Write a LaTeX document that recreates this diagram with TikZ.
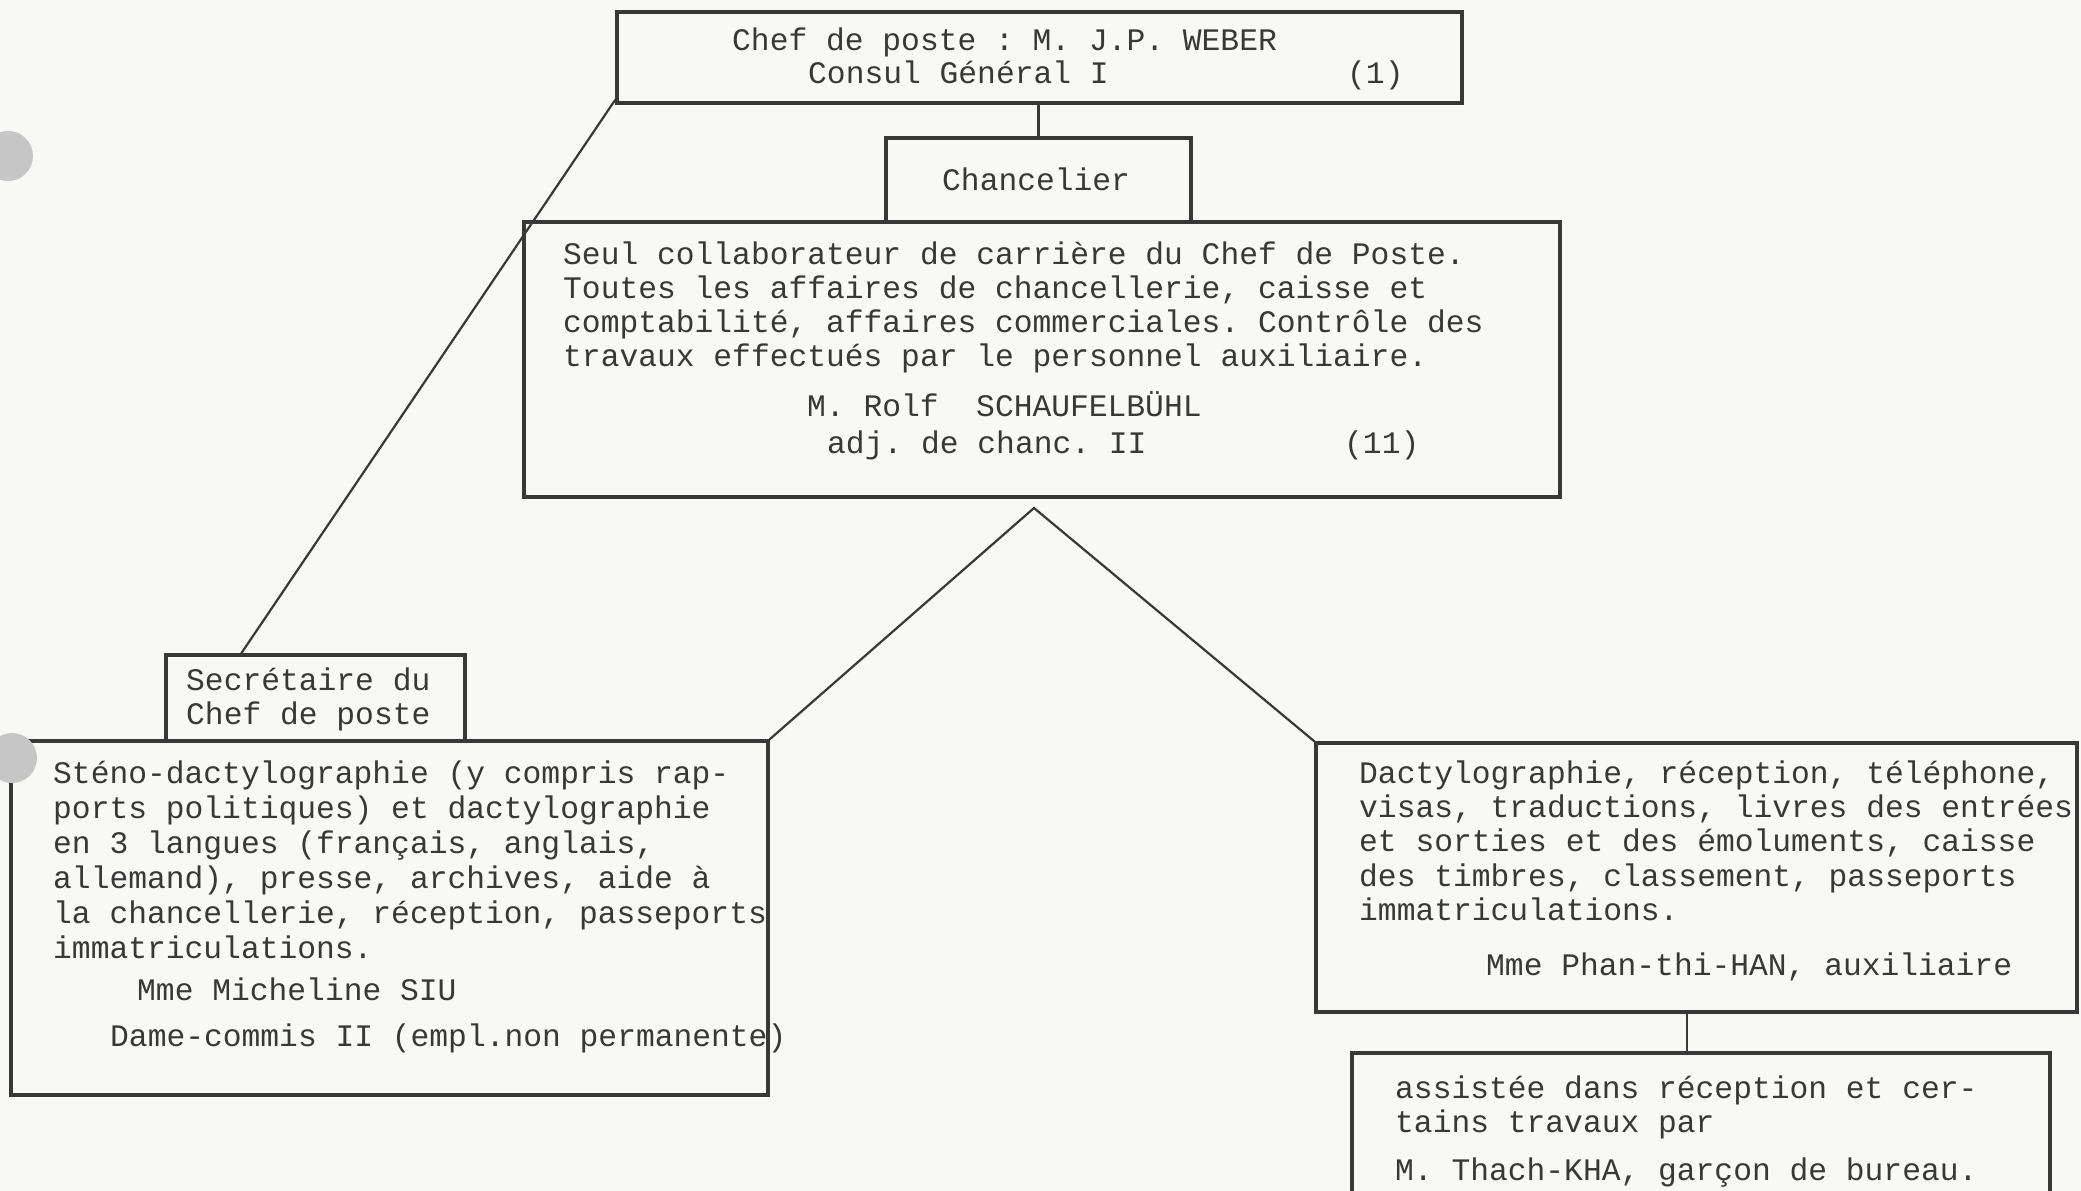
\documentclass[tikz,border=0pt]{standalone}
\usepackage{fontspec}
\setmainfont{Liberation Mono}
\usetikzlibrary{calc}
\definecolor{ink}{HTML}{383838}
\definecolor{paper}{HTML}{F8F8F6}
\frenchspacing
\begin{document}
\begin{tikzpicture}[x=1pt,y=-1pt,
  box/.style={draw=ink, line width=3.4pt, inner sep=0pt},
  conn/.style={draw=ink, line width=2.2pt},
  txt/.style={anchor=base west, inner sep=0pt, text=ink, font=\fontsize{31.3}{34}\selectfont\frenchspacing},
  hole/.style={fill=gray!45}]
\fill[paper] (0,0) rectangle (2081,1191);
\useasboundingbox (0,0) rectangle (2081,1191);
% boxes
\node[box, minimum width=845pt, minimum height=91pt] (top) at (1039.5,57.5) {};
\node[box, minimum width=305pt, minimum height=84pt] (chanc) at (1038.5,180) {};
\node[box, minimum width=1036pt, minimum height=275pt] (big) at (1042,359.5) {};
\node[box, minimum width=299pt, minimum height=86pt] (sec) at (315.5,698) {};
\node[box, minimum width=757pt, minimum height=354pt] (left) at (389.5,918) {};
\node[box, minimum width=761pt, minimum height=269pt] (right) at (1696.5,877.5) {};
\node[box, minimum width=698pt, minimum height=140pt] (bot) at (1701,1123) {};
% texts: top
\node[txt] (t1) at (732,50) {Chef de poste : M. J.P. WEBER};
\node[txt] (t2) at (808,83) {Consul Général I};
\node[txt] (t3) at (1347,83) {(1)};
\node[txt] (c1) at (942,190) {Chancelier};
% big box
\node[txt] (b1) at (563,264) {Seul collaborateur de carrière du Chef de Poste.};
\node[txt] (b2) at (563,298) {Toutes les affaires de chancellerie, caisse et};
\node[txt] (b3) at (563,332) {comptabilité, affaires commerciales. Contrôle des};
\node[txt] (b4) at (563,366) {travaux effectués par le personnel auxiliaire.};
\node[txt] (b5) at (807,416) {M. Rolf\ \ SCHAUFELBÜHL};
\node[txt] (b6) at (827,453) {adj. de chanc. II};
\node[txt] (b7) at (1344,453) {(11)};
% secretaire
\node[txt] (s1) at (186,690) {Secrétaire du};
\node[txt] (s2) at (186,724) {Chef de poste};
% left box
\node[txt] (l1) at (53,783) {Sténo-dactylographie (y compris rap-};
\node[txt] (l2) at (53,818) {ports politiques) et dactylographie};
\node[txt] (l3) at (53,853) {en 3 langues (français, anglais,};
\node[txt] (l4) at (53,888) {allemand), presse, archives, aide à};
\node[txt] (l5) at (53,923) {la chancellerie, réception, passeports};
\node[txt] (l6) at (53,958) {immatriculations.};
\node[txt] (l7) at (137,1000) {Mme Micheline SIU};
\node[txt] (l8) at (110,1046) {Dame-commis II (empl.non permanente)};
% right box
\node[txt] (r1) at (1359,783) {Dactylographie, réception, téléphone,};
\node[txt] (r2) at (1359,817) {visas, traductions, livres des entrées};
\node[txt] (r3) at (1359,851) {et sorties et des émoluments, caisse};
\node[txt] (r4) at (1359,886) {des timbres, classement, passeports};
\node[txt] (r5) at (1359,920) {immatriculations.};
\node[txt] (r6) at (1486,975) {Mme Phan-thi-HAN, auxiliaire};
% bottom box
\node[txt] (x1) at (1395,1098) {assistée dans réception et cer-};
\node[txt] (x2) at (1395,1132) {tains travaux par};
\node[txt] (x3) at (1395,1180) {M. Thach-KHA, garçon de bureau.};
% connectors
\draw[conn] (top.south -| chanc.north) -- (chanc.north);
\coordinate (d1) at ($(top.south west)+(0,-5)$);
\coordinate (d2) at ($(sec.north west)+(77,0)$);
\draw[conn] (d1) -- (d2);
\coordinate (apex) at (1034,508);
\draw[conn] (left.north east) -- (apex) -- (right.north west);
\draw[conn] (right.south -| 1687,0) -- (bot.north -| 1687,0);
% punch holes
\fill[hole] (8,156) circle (25);
\fill[hole] (12,758) circle (25);
\end{tikzpicture}
\end{document}
